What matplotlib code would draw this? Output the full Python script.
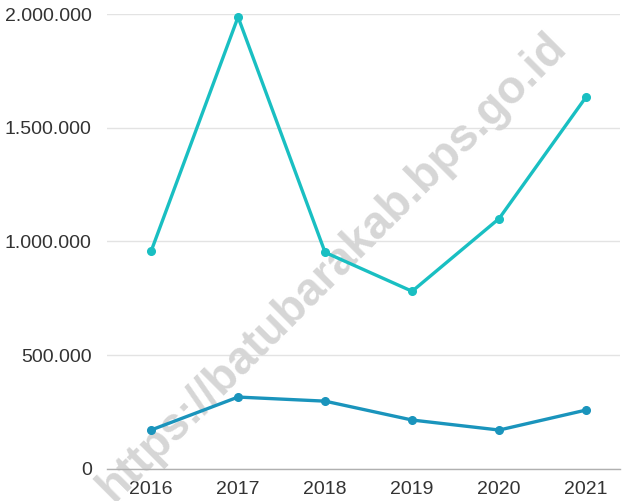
import matplotlib
matplotlib.use("Agg")
import matplotlib.pyplot as plt
from matplotlib.ticker import FuncFormatter

plt.rcParams['font.family'] = ['Liberation Sans', 'DejaVu Sans']

# values
years = ['2016', '2017', '2018', '2019', '2020', '2021']
upper = [956000, 1987000, 952000, 781000, 1101000, 1636000]
lower = [171000, 316000, 298000, 215000, 171000, 259000]

yticks = [0, 500000, 1000000, 1500000, 2000000]

fig = plt.figure(figsize=(6.22, 5.01), dpi=100)
ax = fig.add_axes([0.172, 0.064, 0.825, 0.908])

# watermark behind the lines
ax.text(0.534, 0.467, 'https://batubarakab.bps.go.id', fontsize=33,
        fontweight='bold', color='#d6d6d6', rotation=45,
        ha='center', va='center', zorder=1, clip_on=False,
        transform=fig.transFigure)

x = range(len(years))
ax.plot(x, upper, color='#19bfc2', lw=2.4, marker='o', ms=5.5,
        clip_on=False, zorder=3)
ax.plot(x, lower, color='#1a94bc', lw=2.4, marker='o', ms=5.5,
        clip_on=False, zorder=3)

ax.set_xlim(-0.506, 5.39)
ax.set_ylim(0, 2000000)
ax.set_xticks(list(x))
ax.set_xticklabels(years)
ax.set_yticks(yticks)
ax.yaxis.set_major_formatter(FuncFormatter(lambda v, p: f'{int(v):,}'.replace(',', '.')))

ax.patch.set_alpha(0)
ax.grid(axis='y', color='#e3e3e3', lw=1)
ax.set_axisbelow(True)
for s in ['top', 'right', 'left']:
    ax.spines[s].set_visible(False)
ax.spines['bottom'].set_color('#b0b0b0')
ax.spines['bottom'].set_linewidth(1)
ax.tick_params(axis='both', length=0, labelsize=14, labelcolor='#333333')
ax.tick_params(axis='y', pad=11)
ax.tick_params(axis='x', pad=9)

fig.savefig('out.png', dpi=100)
